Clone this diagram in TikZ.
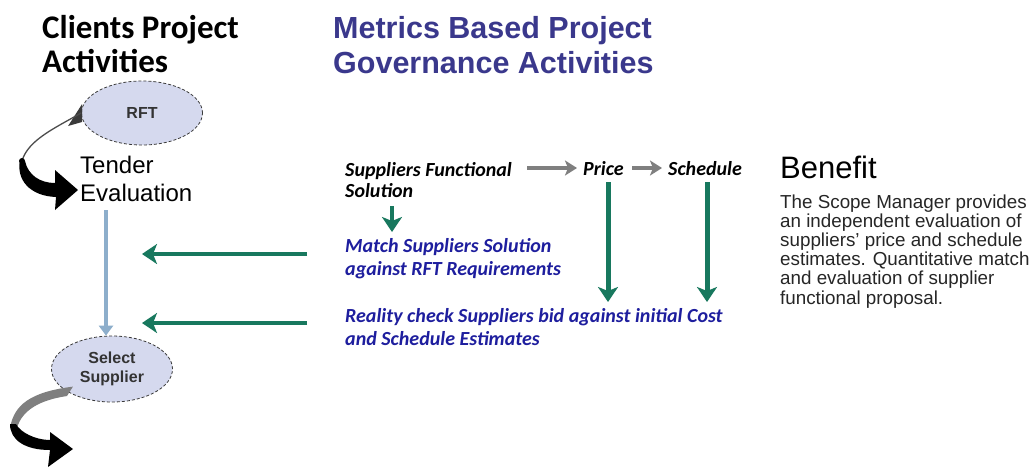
\documentclass[tikz,border=0pt]{standalone}
\usepackage{fontspec}
\setmainfont{Liberation Sans}
\newfontfamily\calib{Carlito}
\usetikzlibrary{arrows.meta,shapes.geometric}
\definecolor{titleblue}{HTML}{3A388C}
\definecolor{itblue}{HTML}{1E1E9E}
\definecolor{tealgreen}{HTML}{18785E}
\definecolor{arrowgray}{HTML}{7F7F7F}
\definecolor{steel}{HTML}{8DAECB}
\definecolor{lav}{HTML}{D5D9EE}
\definecolor{edgegray}{HTML}{3A3A3A}
\tikzset{
  greenarrow/.style={draw=tealgreen, line width=4pt, -{Stealth[length=15pt,width=20pt,inset=4pt]}},
  grayarrow/.style={draw=arrowgray, line width=4.5pt, -{Stealth[length=12pt,width=15pt,inset=3pt]}},
  bluearrow/.style={draw=steel, line width=4pt, -{Triangle[length=10pt,width=14pt]}},
  actell/.style={ellipse, draw=edgegray, densely dashed, line width=0.8pt, fill=lav, inner sep=0pt, font=\bfseries\fontsize{16}{18.5}\selectfont, text=black!80, align=center},
  itxt/.style={anchor=base west, inner sep=0pt, align=left, font=\calib\bfseries\itshape\fontsize{20}{22}\selectfont},
}
\begin{document}
\begin{tikzpicture}[x=1pt,y=-1pt]
\useasboundingbox[fill=white] (0,0) rectangle (1033,467);
% titles (base anchor = baseline of last line)
\node[anchor=base west, inner sep=0pt, align=left, font=\calib\bfseries\fontsize{33}{34}\selectfont] (t1) at (42,72) {Clients Project\\Activities};
\node[anchor=base west, inner sep=0pt, align=left, text=titleblue, font=\bfseries\fontsize{30.5}{35}\selectfont] (t2) at (333,73) {Metrics Based Project\\Governance Activities};
% left column
\node[actell, minimum width=121pt, minimum height=64pt] (rft) at (142,113) {RFT};
\node[anchor=base west, inner sep=0pt, align=left, font=\fontsize{24}{28}\selectfont] (tender) at (80,201) {Tender\\Evaluation};
\node[actell, minimum width=121pt, minimum height=66pt] (sel) at (112,369) {Select\\Supplier};
\coordinate (blueTop) at (106,210);
\draw[bluearrow] (blueTop) -- (sel.north -| blueTop);
% connector RFT -> Tender Evaluation
\coordinate (knot1) at (22,161);
\fill[edgegray] (rft.west) ++(1,-9) -- ++(0,18) -- ++(-14,4) -- cycle;
\draw[arrowgray!60!black, line width=1.3pt] (rft.west) .. controls (55,128) and (28,140) .. (knot1);
\fill[black] (knot1) circle (3pt);
\fill[black] (20,160) .. controls (16,180) and (30,196) .. (56,197) -- (55,210) -- (78,190) -- (55,170) -- (55,183)
  .. controls (40,183) and (28,175) .. (25,161) -- cycle;
% connector Select Supplier -> next
\fill[arrowgray] (sel.south west) ++(4,-6) .. controls (30,392) and (14,405) .. (10,428) -- (17,428)
  .. controls (22,410) and (40,400) .. (67,396) -- cycle;
\fill[black] (10,424) .. controls (10,440) and (25,450) .. (50,450) -- (48,467) -- (73,449) -- (50,432) -- (50,440)
  .. controls (35,440) and (20,432) .. (16,424) -- cycle;
% middle
\node[itxt] (func) at (345,197) {Suppliers Functional\\[-1pt]Solution};
\node[itxt] (price) at (583,175) {Price};
\node[itxt] (sched) at (668,175) {Schedule};
\node[itxt, text=itblue] (match) at (345,275) {Match Suppliers Solution\\[1pt]against RFT Requirements};
\node[itxt, text=itblue] (real) at (345,345) {Reality check Suppliers bid against initial Cost\\[1pt]and Schedule Estimates};
\draw[grayarrow] (527,168) -- (577,168);
\draw[grayarrow] (632,168) -- (662,168);
\draw[greenarrow] (392,206) -- (392,232);
\draw[greenarrow, line width=5pt] (608,182) -- (608,302);
\draw[greenarrow, line width=5pt] (707,182) -- (707,302);
\coordinate (m1) at (307,254);
\coordinate (m2) at (307,323);
\draw[greenarrow] (m1) -- (142,254);
\draw[greenarrow] (m2) -- (142,323);
% benefit
\node[anchor=base west, inner sep=0pt, font=\fontsize{31}{34}\selectfont] (ben) at (780,178) {Benefit};
\node[anchor=base west, inner sep=0pt, align=left, text=black!85, font=\fontsize{18.8}{19.1}\selectfont] (bt) at (780,304)
 {The Scope Manager provides\\an independent evaluation of\\suppliers' price and schedule\\estimates. Quantitative match\\and evaluation of supplier\\functional proposal.};
\end{tikzpicture}
\end{document}
